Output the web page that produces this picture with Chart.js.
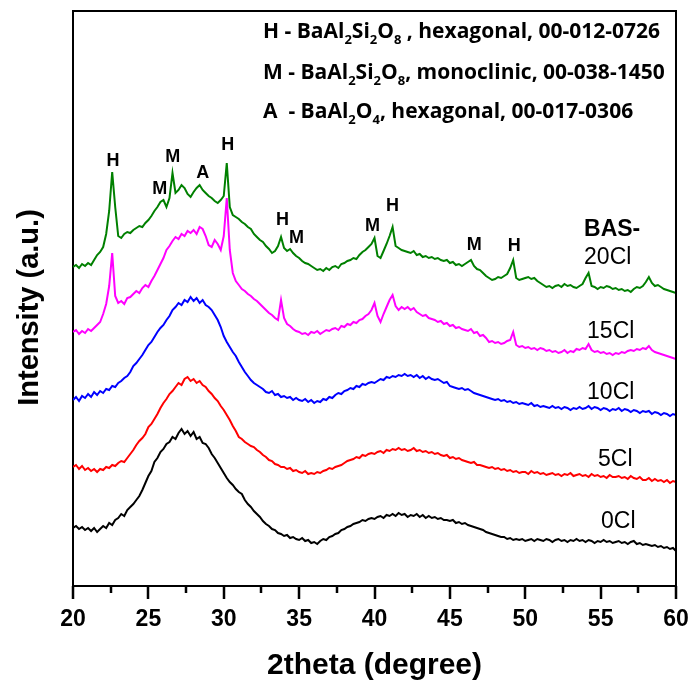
<!DOCTYPE html>
<html>
<head>
<meta charset="utf-8">
<title>XRD patterns BAS-xCl</title>
<script src="https://cdn.jsdelivr.net/npm/chart.js@4.4.1/dist/chart.umd.min.js"></script>
<style>
  html, body { margin: 0; padding: 0; background: #fff; }
  #wrap { width: 691px; height: 689px; }
</style>
</head>
<body>
<div id="wrap"><canvas id="xrd" width="691" height="689"></canvas></div>
<script>
// 2theta scan positions (degree)
const twoTheta = [
  20, 20.2, 20.4, 20.6, 20.8, 21, 21.2, 21.4, 21.6, 21.8,
  22, 22.2, 22.4, 22.6, 22.8, 23, 23.2, 23.4, 23.6, 23.8,
  24, 24.2, 24.4, 24.6, 24.8, 25, 25.2, 25.4, 25.6, 25.8,
  26, 26.2, 26.4, 26.6, 26.8, 27, 27.2, 27.4, 27.6, 27.8,
  28, 28.2, 28.4, 28.6, 28.8, 29, 29.2, 29.4, 29.6, 29.8,
  30, 30.2, 30.4, 30.6, 30.8, 31, 31.2, 31.4, 31.6, 31.8,
  32, 32.2, 32.4, 32.6, 32.8, 33, 33.2, 33.4, 33.6, 33.8,
  34, 34.2, 34.4, 34.6, 34.8, 35, 35.2, 35.4, 35.6, 35.8,
  36, 36.2, 36.4, 36.6, 36.8, 37, 37.2, 37.4, 37.6, 37.8,
  38, 38.2, 38.4, 38.6, 38.8, 39, 39.2, 39.4, 39.6, 39.8,
  40, 40.2, 40.4, 40.6, 40.8, 41, 41.2, 41.4, 41.6, 41.8,
  42, 42.2, 42.4, 42.6, 42.8, 43, 43.2, 43.4, 43.6, 43.8,
  44, 44.2, 44.4, 44.6, 44.8, 45, 45.2, 45.4, 45.6, 45.8,
  46, 46.2, 46.4, 46.6, 46.8, 47, 47.2, 47.4, 47.6, 47.8,
  48, 48.2, 48.4, 48.6, 48.8, 49, 49.2, 49.4, 49.6, 49.8,
  50, 50.2, 50.4, 50.6, 50.8, 51, 51.2, 51.4, 51.6, 51.8,
  52, 52.2, 52.4, 52.6, 52.8, 53, 53.2, 53.4, 53.6, 53.8,
  54, 54.2, 54.4, 54.6, 54.8, 55, 55.2, 55.4, 55.6, 55.8,
  56, 56.2, 56.4, 56.6, 56.8, 57, 57.2, 57.4, 57.6, 57.8,
  58, 58.2, 58.4, 58.6, 58.8, 59, 59.2, 59.4, 59.6, 59.8,
  60
];

// offset intensities (a.u.), one per scan position
const bas0Cl = [
  58, 60, 57, 59, 56, 58, 55, 58, 54, 57,
  60, 58, 63, 61, 66, 68, 72, 70, 76, 79,
  82, 86, 90, 96, 103, 110, 115, 124, 128, 134,
  137, 142, 144, 149, 147, 153, 157, 152, 155, 150,
  154, 147, 149, 143, 142, 138, 132, 128, 123, 118,
  113, 108, 104, 101, 97, 94, 92, 86, 82, 79,
  75, 72, 69, 65, 62, 60, 57, 56, 53, 52,
  50, 51, 48, 49, 47, 46, 48, 45, 46, 43,
  44, 42, 45, 47, 46, 49, 50, 52, 53, 56,
  57, 59, 60, 62, 63, 64, 66, 65, 67, 68,
  67, 69, 70, 68, 71, 70, 72, 70, 73, 71,
  72, 69, 71, 70, 72, 69, 71, 68, 70, 68,
  69, 67, 68, 66, 66, 65, 66, 63, 64, 62,
  63, 61, 60, 59, 58, 57, 56, 54, 53, 52,
  51, 50, 49, 49, 47, 48, 46, 47, 46, 47,
  45, 46, 47, 45, 47, 46, 45, 47, 46, 44,
  46, 47, 45, 46, 44, 46, 45, 47, 45, 46,
  44, 46, 45, 43, 45, 44, 46, 44, 45, 43,
  44, 45, 43, 44, 42, 44, 45, 42, 43, 41,
  42, 41, 40, 41, 39, 40, 38, 39, 37, 38,
  35
];

const bas5Cl = [
  119, 121, 117, 120, 116, 118, 115, 117, 114, 117,
  116, 119, 118, 121, 120, 123, 125, 124, 128, 132,
  136, 141, 145, 148, 152, 159, 162, 167, 172, 178,
  183, 187, 192, 195, 199, 203, 201, 207, 209, 205,
  207, 203, 205, 201, 199, 195, 192, 188, 185, 180,
  176, 171, 166, 160, 155, 149, 147, 144, 142, 140,
  139, 136, 134, 131, 129, 126, 125, 122, 121, 119,
  119, 117, 118, 115, 116, 114, 113, 115, 112, 113,
  112, 114, 113, 115, 116, 118, 117, 119, 120, 121,
  123, 125, 126, 127, 129, 128, 131, 130, 132, 133,
  132, 134, 135, 133, 136, 135, 137, 136, 138, 136,
  137, 135, 136, 138, 135, 136, 134, 135, 133, 134,
  132, 133, 131, 130, 131, 128, 129, 127, 128, 126,
  125, 124, 123, 124, 121, 121, 120, 119, 118, 119,
  117, 118, 116, 117, 115, 116, 114, 115, 113, 114,
  114, 112, 115, 113, 114, 112, 113, 111, 112, 113,
  111, 112, 110, 112, 111, 113, 110, 111, 112, 110,
  111, 109, 112, 110, 111, 109, 110, 108, 111, 109,
  109, 110, 108, 109, 107, 110, 108, 107, 109, 106,
  106, 108, 105, 107, 105, 106, 104, 106, 103, 105,
  104
];

const bas10Cl = [
  186, 189, 185, 190, 188, 192, 189, 194, 191, 195,
  193, 197, 196, 200, 199, 203, 205, 208, 210, 214,
  220, 223, 227, 231, 236, 241, 244, 249, 254, 258,
  261, 266, 270, 276, 279, 283, 281, 286, 284, 289,
  285, 288, 283, 286, 281, 279, 276, 271, 266, 259,
  250, 244, 239, 234, 230, 224, 219, 214, 210, 206,
  203, 201, 199, 197, 194, 193, 195, 191, 192, 189,
  190, 188, 189, 186, 188, 186, 185, 187, 184, 186,
  183, 185, 184, 187, 186, 189, 188, 191, 193, 192,
  195, 196, 198, 197, 200, 199, 202, 201, 203, 204,
  203, 205, 207, 206, 209, 208, 210, 209, 211, 210,
  212, 210, 211, 209, 211, 208, 210, 207, 209, 207,
  206, 207, 205, 203, 204, 200, 199, 198, 197, 198,
  196, 197, 195, 193, 192, 191, 190, 189, 188, 187,
  186, 187, 185, 186, 184, 185, 183, 184, 182, 183,
  182, 181, 183, 180, 181, 179, 180, 179, 178, 180,
  178, 179, 177, 179, 178, 176, 178, 177, 179, 177,
  178, 180, 177, 179, 178, 176, 178, 177, 175, 177,
  176, 178, 175, 177, 176, 174, 176, 175, 173, 175,
  174, 175, 172, 174, 173, 171, 173, 172, 170, 172,
  171
];

const bas15Cl = [
  254, 256, 252, 255, 253, 257, 255, 258, 261, 264,
  272, 282, 300, 333, 290, 283, 285, 282, 288, 289,
  292, 295, 293, 298, 301, 299, 305, 310, 316, 322,
  328, 336, 340, 345, 349, 347, 352, 350, 355, 353,
  356, 352, 359, 357, 350, 341, 339, 346, 342, 336,
  350, 388, 336, 313, 305, 301, 297, 295, 292, 290,
  287, 285, 282, 279, 276, 273, 271, 268, 266, 286,
  268, 262, 260, 257, 255, 254, 252, 253, 251, 254,
  253, 255, 252, 254, 256, 255, 257, 258, 256, 260,
  259, 262, 261, 264, 263, 266, 267, 270, 272, 276,
  283, 270, 264, 272, 279, 286, 291, 280, 276, 279,
  277, 279, 276, 278, 274, 272, 270, 271, 268, 267,
  266, 264, 265, 262, 263, 260, 261, 258, 259, 257,
  256, 255, 257, 253, 254, 250, 251, 248, 244, 245,
  243, 244, 242, 243, 245, 246, 254, 241, 239, 240,
  238, 239, 237, 238, 236, 238, 237, 235, 236, 234,
  235, 233, 234, 236, 233, 235, 234, 237, 236, 238,
  237, 242, 236, 234, 235, 233, 234, 232, 233, 231,
  233, 232, 234, 233, 235, 236, 235, 237, 236, 238,
  237, 240, 236, 234, 233, 232, 231, 230, 229, 228,
  227
];

const bas20Cl = [
  319, 321, 318, 322, 320, 323, 321, 326, 331, 334,
  339, 352, 375, 414, 379, 350, 348, 352, 354, 353,
  356, 358, 360, 359, 363, 366, 370, 375, 379, 384,
  386, 379, 388, 413, 393, 396, 401, 398, 392, 389,
  394, 398, 401, 396, 393, 390, 388, 385, 383, 386,
  390, 423, 379, 371, 369, 367, 364, 362, 359, 357,
  352, 349, 346, 344, 340, 337, 333, 335, 340, 349,
  338, 335, 337, 333, 330, 328, 325, 323, 322, 320,
  318, 316, 317, 315, 318, 316, 319, 320, 318, 322,
  323, 325, 326, 328, 327, 331, 334, 336, 339, 342,
  348, 330, 328, 335, 342, 350, 359, 340, 338, 336,
  335, 334, 333, 335, 331, 332, 329, 330, 328, 329,
  327, 328, 326, 325, 326, 323, 324, 321, 322, 320,
  322, 324, 326, 320, 317, 316, 313, 310, 308, 306,
  307, 309, 308, 310, 312, 318, 326, 308, 306, 307,
  308, 309, 307, 308, 305, 303, 301, 299, 300, 298,
  300, 301, 299, 302, 300, 301, 299, 298, 300, 302,
  308, 313, 300, 299, 297, 299, 298, 300, 299, 297,
  298, 296, 297, 295, 296, 294, 297, 299, 298, 300,
  304, 309, 303, 300, 301, 299, 297, 296, 295, 294,
  293
];

const sampleNames = ['20Cl', '15Cl', '10Cl', '5Cl', '0Cl'];
const sampleSeries = [bas20Cl, bas15Cl, bas10Cl, bas5Cl, bas0Cl];
const sampleColors = ['#008000', '#ff00ff', '#0000ff', '#ff0000', '#000000'];

// where each sample name sits (data units: left edge 2theta, centre intensity)
const nameX = [53.9, 54.1, 54.1, 54.83, 55.03];
const nameY = [328, 254, 193, 126, 64];

// phase marks over the 20Cl pattern
const peakLetters = ['H', 'M', 'M', 'A', 'H', 'H', 'M', 'M', 'H', 'M', 'H'];
const peakX = [22.65, 25.76, 26.62, 28.6, 30.26, 33.9, 34.83, 39.87, 41.19, 46.62, 49.27];
const peakY = [425, 397, 429, 413, 441, 366, 348, 360, 380, 341, 340];

// phase key, _n marks a subscript digit
const phaseKey = [
  'H - BaAl_2Si_2O_8 , hexagonal, 00-012-0726',
  'M - BaAl_2Si_2O_8, monoclinic, 00-038-1450',
  'A  - BaAl_2O_4, hexagonal, 00-017-0306'
];

const xTicksMajor = [20, 25, 30, 35, 40, 45, 50, 55, 60];
const xTicksMinor = [22.5, 27.5, 32.5, 37.5, 42.5, 47.5, 52.5, 57.5];

const FONT = '"Liberation Sans", Arial, sans-serif';
Chart.defaults.font.family = FONT;
Chart.defaults.color = '#000';

function drawRich(ctx, str, x, y, size) {
  const parts = str.split(/_(\d)/);
  let cx = x;
  parts.forEach((p, i) => {
    if (!p) return;
    if (i % 2 === 1) {
      ctx.font = `bold ${Math.round(size * 0.62)}px "Open Sans", sans-serif`;
      ctx.fillText(p, cx, y + size * 0.28);
    } else {
      ctx.font = `bold ${size}px "Open Sans", sans-serif`;
      ctx.fillText(p, cx, y);
    }
    cx += ctx.measureText(p).width;
  });
}

const annotate = {
  id: 'annotate',
  afterDraw(chart) {
    const { ctx, chartArea: a, scales: { x, y } } = chart;
    ctx.save();

    // close the frame
    ctx.strokeStyle = '#000';
    ctx.lineWidth = 2;
    ctx.beginPath();
    ctx.moveTo(a.left - 1, a.top);
    ctx.lineTo(a.right, a.top);
    ctx.lineTo(a.right, a.bottom);
    ctx.stroke();

    // outward ticks on the 2theta axis
    ctx.lineWidth = 2.5;
    ctx.beginPath();
    xTicksMajor.forEach(v => {
      const px = Math.round(x.getPixelForValue(v));
      ctx.moveTo(px, a.bottom);
      ctx.lineTo(px, a.bottom + 13);
    });
    xTicksMinor.forEach(v => {
      const px = Math.round(x.getPixelForValue(v));
      ctx.moveTo(px, a.bottom);
      ctx.lineTo(px, a.bottom + 7);
    });
    ctx.stroke();

    ctx.fillStyle = '#000';

    // y axis title
    ctx.save();
    ctx.translate(30, (a.top + a.bottom) / 2 + 9);
    ctx.rotate(-Math.PI / 2);
    ctx.textAlign = 'center';
    ctx.textBaseline = 'middle';
    ctx.font = `bold 29px ${FONT}`;
    ctx.fillText('Intensity (a.u.)', 0, 0);
    ctx.restore();

    // peak letters
    ctx.textAlign = 'center';
    ctx.textBaseline = 'middle';
    ctx.font = `bold 18px ${FONT}`;
    peakLetters.forEach((t, i) => {
      ctx.fillText(t, x.getPixelForValue(peakX[i]), y.getPixelForValue(peakY[i]));
    });

    // sample names
    ctx.textAlign = 'left';
    ctx.font = `bold 23px ${FONT}`;
    ctx.fillText('BAS-', x.getPixelForValue(nameX[0]), y.getPixelForValue(nameY[0] + 28));
    ctx.font = `23px ${FONT}`;
    sampleNames.forEach((n, i) => {
      ctx.fillText(n, x.getPixelForValue(nameX[i]), y.getPixelForValue(nameY[i]));
    });

    // phase key
    ctx.textBaseline = 'alphabetic';
    const keyBase = [38, 79, 118];
    phaseKey.forEach((line, i) => drawRich(ctx, line, 263, keyBase[i], 21));

    ctx.restore();
  }
};

new Chart(document.getElementById('xrd'), {
  type: 'line',
  data: {
    datasets: sampleSeries.map((s, i) => ({
      label: 'BAS-' + sampleNames[i],
      data: twoTheta.map((t, j) => ({ x: t, y: s[j] })),
      borderColor: sampleColors[i],
      borderWidth: 2,
      pointRadius: 0,
      tension: 0,
      fill: false
    }))
  },
  options: {
    responsive: false,
    animation: false,
    devicePixelRatio: 1,
    layout: { padding: { top: 11, right: 15, left: 0, bottom: 0 } },
    plugins: { legend: { display: false }, tooltip: { enabled: false } },
    scales: {
      x: {
        type: 'linear',
        min: 20,
        max: 60,
        border: { color: '#000', width: 2 },
        grid: { drawOnChartArea: false, tickColor: 'rgba(0,0,0,0)', tickLength: 20 },
        ticks: { stepSize: 5, color: '#000', padding: 0, maxRotation: 0, font: { size: 23, weight: 'bold' } },
        title: { display: true, text: '2theta (degree)', color: '#000', font: { size: 30, weight: 'bold' }, padding: { top: 0, bottom: 5 } },
        afterFit(s) { s.height = 103; }
      },
      y: {
        min: 0,
        max: 575,
        border: { color: '#000', width: 2 },
        grid: { display: false },
        ticks: { display: false },
        title: { display: false },
        afterFit(s) { s.width = 73; }
      }
    }
  },
  plugins: [annotate]
});
</script>
</body>
</html>
